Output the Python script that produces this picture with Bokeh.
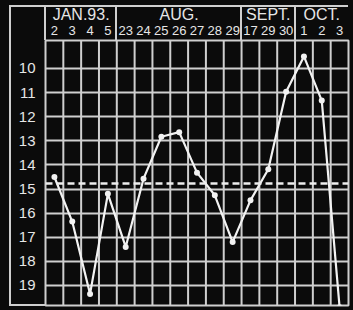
from bokeh.plotting import figure
from bokeh.models import FactorRange, Range1d, FixedTicker, Span, ColumnDataSource
from bokeh.embed import file_html
from bokeh.resources import INLINE

# ---- data ----
months = ["JAN.93.", "AUG.", "SEPT.", "OCT."]
jan_days = ["2", "3", "4", "5"]
aug_days = ["23", "24", "25", "26", "27", "28", "29"]
sept_days = ["17", "29", "30"]
oct_days = ["1", "2", "3"]

jan_vals = [14.5, 16.35, 19.35, 15.2]
aug_vals = [17.4, 14.57, 12.83, 12.64, 14.32, 15.26, 17.2]
sept_vals = [15.47, 14.18, 10.97]
oct_vals = [9.5, 11.33, 19.9]

y_ticks = [10, 11, 12, 13, 14, 15, 16, 17, 18, 19]
mean_level = 14.77

# ---- build ----
day_groups = [jan_days, aug_days, sept_days, oct_days]
val_groups = [jan_vals, aug_vals, sept_vals, oct_vals]

factors = []
values = []
for m, ds, vs in zip(months, day_groups, val_groups):
    for d, v in zip(ds, vs):
        factors.append((m, d))
        values.append(v)

INK = "#e6e6e6"
GRID = "#cfcfcf"
BG = "#0b0b0b"

W, H = 353, 310
ML, MR, MT, MB = 45, 5, 40, 5
TOP = 6
OUTER_LEFT = 10

# ruled frame of the header / label column, painted behind the transparent border
col_w = (W - ML - MR) / len(factors)
rules = []  # (x, y, w, h) in px
rules.append((OUTER_LEFT - 1, TOP - 1, 2, H - MB - TOP + 1))        # outer left rule
rules.append((OUTER_LEFT - 1, TOP - 1, W - MR - OUTER_LEFT + 1, 2))  # top rule
rules.append((OUTER_LEFT - 1, H - MB - 1, W - MR - OUTER_LEFT + 1, 2))  # bottom rule
rules.append((ML - 1, TOP - 1, 2, MT - TOP + 1))                    # left rule of header
n = 0
for ds in day_groups[:-1]:
    n += len(ds)
    rules.append((round(ML + n * col_w) - 1, TOP - 1, 2, MT - TOP + 1))  # month dividers
grad = ", ".join(f"linear-gradient({GRID}, {GRID})" for _ in rules)
sizes = ", ".join(f"{w}px {h}px" for (_, _, w, h) in rules)
poss = ", ".join(f"{x}px {y}px" for (x, y, _, _) in rules)

x_range = FactorRange(factors=factors, range_padding=0, factor_padding=0,
                      group_padding=0, subgroup_padding=0)
y_range = Range1d(start=19.83, end=8.84)

p = figure(width=W, height=H, x_range=x_range, y_range=y_range,
           x_axis_location="above", output_backend="svg", toolbar_location=None,
           min_border_left=ML, min_border_right=MR, min_border_top=MT, min_border_bottom=MB)

p.background_fill_color = BG
p.border_fill_color = None
p.styles = {
    "background-color": BG,
    "background-image": grad,
    "background-size": sizes,
    "background-position": poss,
    "background-repeat": "no-repeat",
}
p.outline_line_color = GRID
p.outline_line_width = 2

# horizontal grid
p.ygrid.ticker = FixedTicker(ticks=y_ticks)
p.ygrid.grid_line_color = GRID
p.ygrid.grid_line_width = 2
p.xgrid.visible = False

# vertical grid lines at column boundaries
bounds = [(m, d, -0.5) for (m, d) in factors[1:]]
gsrc = ColumnDataSource(dict(x=bounds,
                             y0=[y_range.start] * len(bounds),
                             y1=[y_range.end] * len(bounds)))
p.segment(x0="x", x1="x", y0="y0", y1="y1", source=gsrc,
          line_color=GRID, line_width=2)

# y axis
yax = p.yaxis[0]
yax.ticker = FixedTicker(ticks=y_ticks)
yax.axis_line_color = None
yax.major_tick_line_color = None
yax.minor_tick_line_color = None
yax.major_label_text_color = INK
yax.major_label_text_font = "Liberation Sans"
yax.major_label_text_font_size = "15px"
yax.major_label_standoff = 4

# x axis (top)
xax = p.xaxis[0]
xax.axis_line_color = None
xax.major_tick_line_color = None
xax.major_label_text_color = INK
xax.major_label_text_font = "Liberation Sans"
xax.major_label_text_font_size = "13px"
xax.major_label_standoff = 0
xax.group_text_color = INK
xax.group_text_font = "Liberation Sans"
xax.group_text_font_size = "16px"
xax.group_text_font_style = "normal"
xax.separator_line_color = None

# mean line
p.add_layout(Span(location=mean_level, dimension="width", line_color="#eeeeee",
                  line_width=2.5, line_dash="7 4"))

# data
src = ColumnDataSource(dict(x=factors, y=values))
p.line(x="x", y="y", source=src, line_color="#f2f2f2", line_width=2.2)
p.scatter(x="x", y="y", source=src, size=6, fill_color="#f2f2f2", line_color=None)

open("out.html", "w").write(file_html(p, INLINE))
